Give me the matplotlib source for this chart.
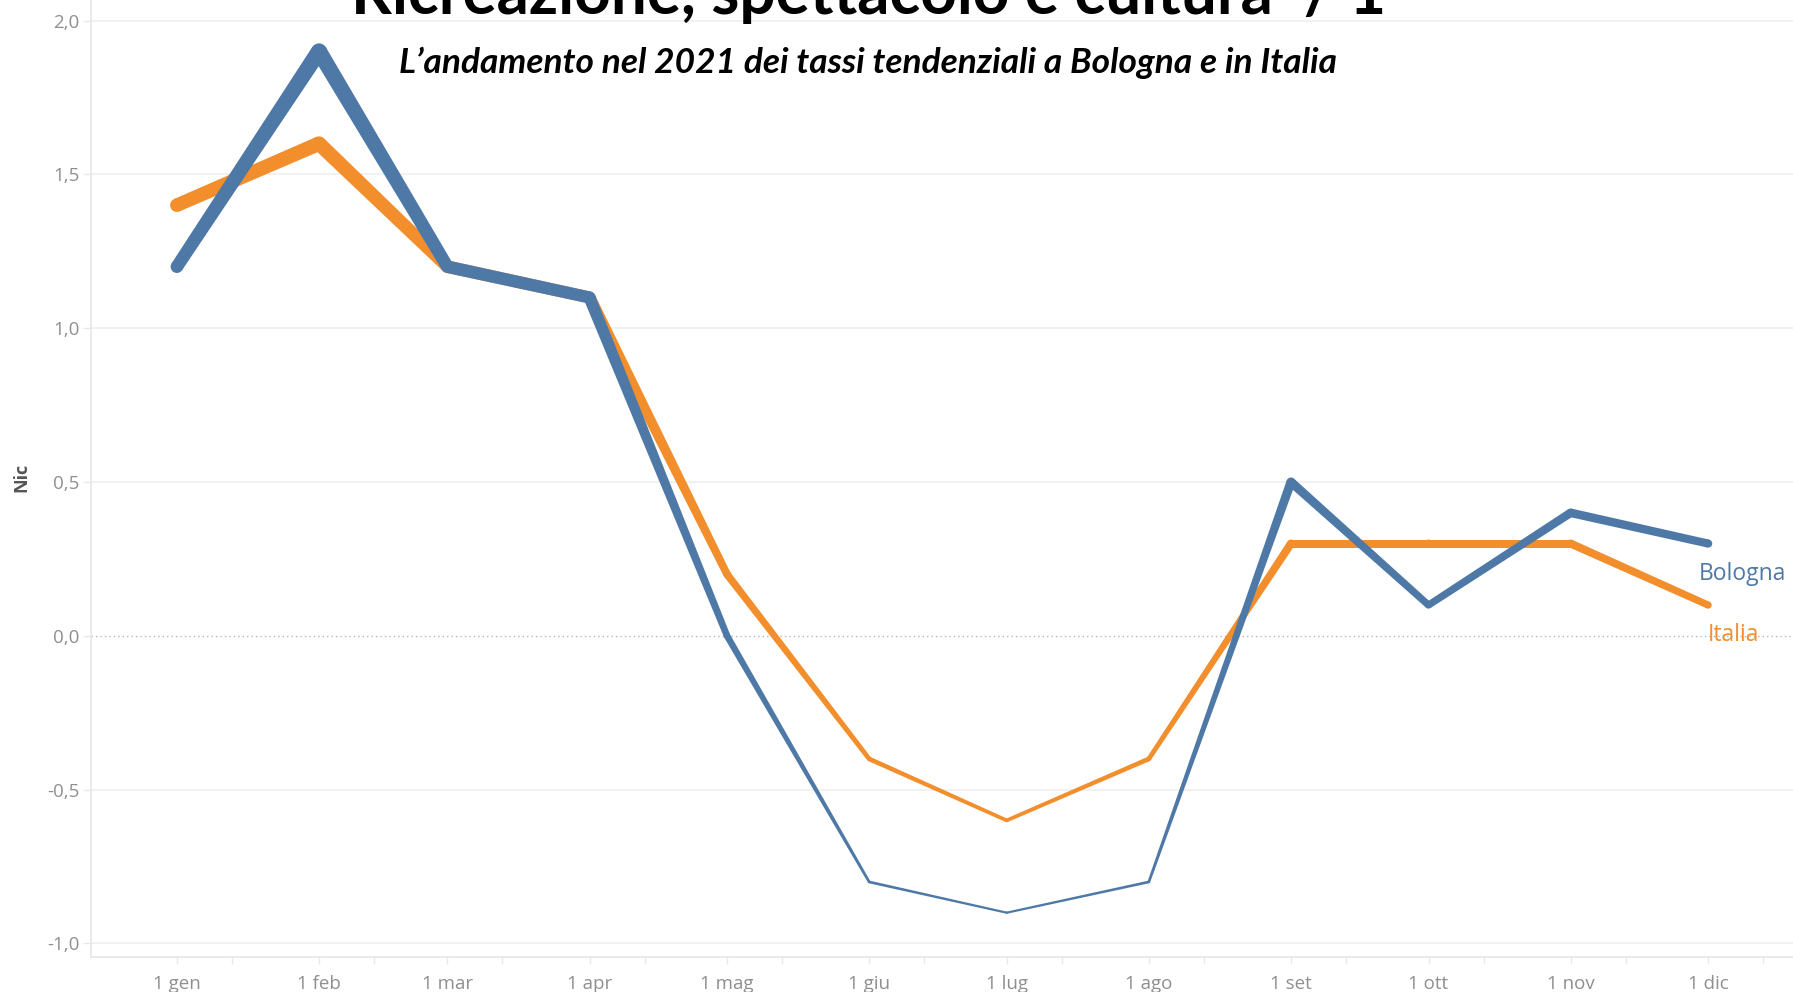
import matplotlib
matplotlib.use('Agg')
import matplotlib.pyplot as plt
import matplotlib.dates as mdates
from matplotlib.patches import Polygon, Circle
from matplotlib.transforms import IdentityTransform
import numpy as np
import pandas as pd

# ---- data ----
months = pd.date_range('2021-01-01', periods=12, freq='MS')
month_labels = ['1 gen', '1 feb', '1 mar', '1 apr', '1 mag', '1 giu',
                '1 lug', '1 ago', '1 set', '1 ott', '1 nov', '1 dic']
bologna = [1.2, 1.9, 1.2, 1.1, 0.0, -0.8, -0.9, -0.8, 0.5, 0.1, 0.4, 0.3]
italia = [1.4, 1.6, 1.2, 1.1, 0.2, -0.4, -0.6, -0.4, 0.3, 0.3, 0.3, 0.1]
y_ticks = [-1.0, -0.5, 0.0, 0.5, 1.0, 1.5, 2.0]
y_tick_labels = ['-1,0', '-0,5', '0,0', '0,5', '1,0', '1,5', '2,0']
title = 'Ricreazione, spettacolo e cultura  / 1'
subtitle = 'L\u2019andamento nel 2021 dei tassi tendenziali a Bologna e in Italia'

BLUE = '#4e79a7'
ORANGE = '#f28e2b'

W, H, DPI = 1793, 992, 100
fig = plt.figure(figsize=(W / DPI, H / DPI), dpi=DPI)
ax = fig.add_axes([90.7 / W, 35 / H, 1 - 90.7 / W, 1 - 35 / H])

x = mdates.date2num(months)

ax.set_xlim(x[0] - 18.8, x[0] + 352.5)
ax.set_ylim(-1.044, 2.067)

# size encoding: stroke width (pixels) grows with the value
SIZE_MIN_V, SIZE_MAX_V = -0.9, 1.9
SIZE_MIN_PX, SIZE_MAX_PX = 2.2, 16.0


def width_px(v):
    f = (v - SIZE_MIN_V) / (SIZE_MAX_V - SIZE_MIN_V)
    return SIZE_MIN_PX + f * (SIZE_MAX_PX - SIZE_MIN_PX)


def draw(vals, color, z):
    pts = ax.transData.transform(np.column_stack([x, vals]))
    ws = [width_px(v) for v in vals]
    for i in range(len(vals) - 1):
        p0, p1 = pts[i], pts[i + 1]
        d = p1 - p0
        d = d / np.hypot(*d)
        n = np.array([-d[1], d[0]])
        poly = [p0 + n * ws[i] / 2, p1 + n * ws[i + 1] / 2,
                p1 - n * ws[i + 1] / 2, p0 - n * ws[i] / 2]
        ax.add_patch(Polygon(poly, closed=True, facecolor=color, edgecolor='none',
                             transform=IdentityTransform(), zorder=z,
                             antialiased=True))
    for p, w in zip(pts, ws):
        ax.add_patch(Circle(p, w / 2, facecolor=color, edgecolor='none',
                            transform=IdentityTransform(), zorder=z))


# y axis
ax.set_yticks(y_ticks)
ax.set_yticklabels(y_tick_labels)
ax.tick_params(axis='y', length=6, width=1, color='#e8e8e8', pad=2,
               labelsize=13.5, labelcolor='#8f8f8f')
for v in y_ticks:
    if v == 0:
        ax.axhline(v, color='#b5b5b5', lw=1.0, ls=(0, (1, 2.2)), zorder=1)
    else:
        ax.axhline(v, color='#efefef', lw=1.2, zorder=1)

# x axis
ax.set_xticks(x)
ax.set_xticklabels(month_labels)
ax.set_xticks(x + 12, minor=True)
ax.tick_params(axis='x', which='both', length=5, width=1, color='#e8e8e8',
               pad=8, labelsize=13.5, labelcolor='#8f8f8f')

for t in ax.get_xticklabels() + ax.get_yticklabels():
    t.set_fontfamily('Open Sans')

for s in ['top', 'right']:
    ax.spines[s].set_visible(False)
for s in ['left', 'bottom']:
    ax.spines[s].set_color('#e6e6e6')
    ax.spines[s].set_linewidth(1.2)

draw(italia, ORANGE, 3)
draw(bologna, BLUE, 4)

# y label
fig.text(21.7 / W, 1 - 477 / H, 'Nic', rotation=90, ha='center', va='center',
         fontsize=13, fontweight='bold', color='#555555', fontfamily='Open Sans')

# end labels
ax.annotate('Bologna', xy=(x[-1], bologna[-1]), xytext=(-9, -30),
            textcoords='offset pixels', ha='left', va='center',
            fontsize=16.5, color=BLUE, fontfamily='Open Sans', zorder=5)
ax.annotate('Italia', xy=(x[-1], italia[-1]), xytext=(0, -30),
            textcoords='offset pixels', ha='left', va='center',
            fontsize=16.5, color=ORANGE, fontfamily='Open Sans', zorder=5)

# titles, fitted to the reference widths
t1 = fig.text(869 / W, 1 - 14 / H, title, ha='center', va='baseline',
              fontsize=30, fontweight='bold', fontfamily='Lato', color='black')
t2 = fig.text(868 / W, 1 - 73 / H, subtitle, ha='center', va='baseline',
              fontsize=20, fontweight='bold', fontstyle='italic',
              fontfamily='Lato', color='black')
fig.canvas.draw()
r = fig.canvas.get_renderer()
for t, target in [(t1, 1035), (t2, 937)]:
    w = t.get_window_extent(r).width
    t.set_fontsize(t.get_fontsize() * target / w)

fig.savefig('out.png', dpi=DPI, facecolor='white')
